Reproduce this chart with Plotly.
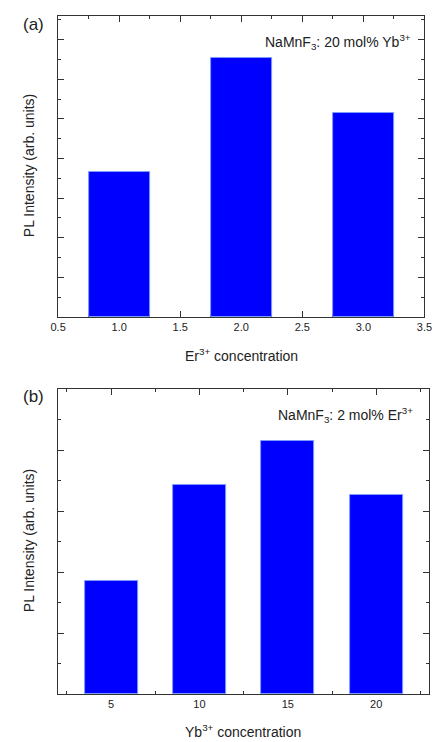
import plotly.graph_objects as go
from plotly.subplots import make_subplots

# Panel (a): Er3+ concentration series
er_conc = [1.0, 2.0, 3.0]
er_intensity = [3.65, 6.53, 5.14]

# Panel (b): Yb3+ concentration series
yb_conc = [5, 10, 15, 20]
yb_intensity = [1.85, 3.42, 4.15, 3.26]

W, H = 443, 742
FONT = "Liberation Sans, Arial, sans-serif"

fig = make_subplots(rows=2, cols=1)

bar_style = dict(marker=dict(color="#0000FF", line=dict(color="#7a9cff", width=1)), showlegend=False)
fig.add_trace(go.Bar(x=er_conc, y=er_intensity, width=0.5, **bar_style), row=1, col=1)
fig.add_trace(go.Bar(x=yb_conc, y=yb_intensity, width=3, **bar_style), row=2, col=1)

axis_common = dict(showline=True, linecolor="#333333", linewidth=1, mirror="ticks",
                   ticks="inside", ticklen=6, tickcolor="#333333", showgrid=False, zeroline=False,
                   tickfont=dict(family=FONT, size=11, color="#222222"))

fig.update_layout(
    width=W, height=H, margin=dict(l=0, r=0, t=0, b=0),
    paper_bgcolor="white", plot_bgcolor="white", bargap=0,
    font=dict(family=FONT, color="#222222"),
    xaxis=dict(domain=[52 / W, 432 / W], range=[0.5, 3.5], dtick=0.5, tick0=0.5, tickformat=".1f",
               layer="below traces",
               minor=dict(ticks="inside", ticklen=3, dtick=0.25, tickcolor="#333333"), **axis_common),
    yaxis=dict(domain=[1 - 317 / H, 1 - 16 / H], range=[0, 7.6], dtick=1, showticklabels=False,
               minor=dict(ticks="inside", ticklen=3, dtick=0.5, tickcolor="#333333"), **axis_common),
    xaxis2=dict(domain=[52 / W, 437 / W], range=[2, 23], dtick=5, tick0=0,
                layer="below traces",
                minor=dict(ticks="inside", ticklen=3, dtick=2.5, tickcolor="#333333"), **axis_common),
    yaxis2=dict(domain=[1 - 694 / H, 1 - 389 / H], range=[0, 5], dtick=1, showticklabels=False,
                minor=dict(ticks="inside", ticklen=3, dtick=0.5, tickcolor="#333333"), **axis_common),
)

def ann(text, x, y, size, xanchor="center", angle=0):
    fig.add_annotation(text=text, x=x / W, y=1 - y / H, xref="paper", yref="paper",
                       showarrow=False, xanchor=xanchor, yanchor="middle", textangle=angle,
                       font=dict(family=FONT, size=size, color="#222222"))

ann("(a)", 14, 25, 17, xanchor="left")
ann("(b)", 14, 397, 17, xanchor="left")
ann("NaMnF<sub>3</sub>: 20 mol% Yb<sup>3+</sup>", 420, 42, 14, xanchor="right")
ann("NaMnF<sub>3</sub>: 2 mol% Er<sup>3+</sup>", 422, 415, 14, xanchor="right")
ann("Er<sup>3+</sup> concentration", 242, 355, 14)
ann("Yb<sup>3+</sup> concentration", 244, 731, 14)
ann("PL Intensity (arb. units)", 22, 166, 14, angle=-90)
ann("PL Intensity (arb. units)", 22, 541, 14, angle=-90)

fig.write_html("out.html", config={"displayModeBar": False},
               post_script="document.body.style.margin='0';document.body.style.overflow='hidden';")
